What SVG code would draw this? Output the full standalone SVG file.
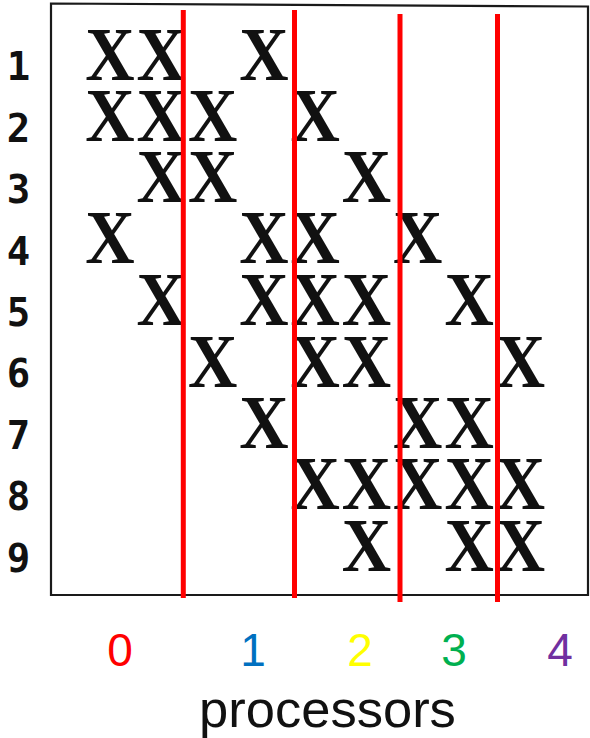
<svg xmlns="http://www.w3.org/2000/svg" width="590" height="738" viewBox="0 0 590 738">
<style>
.x{font-family:"Liberation Serif","Times New Roman",serif;font-weight:bold;font-size:76px;fill:#111}
.rl{font-family:"DejaVu Sans Mono","Liberation Mono",monospace;font-weight:bold;font-size:39px;fill:#111;text-anchor:middle}
.pl{font-family:"Liberation Sans",Arial,sans-serif;font-size:46px;text-anchor:middle}
.cap{font-family:"Liberation Sans",Arial,sans-serif;font-size:52.5px;text-anchor:middle;fill:#111}
.cut{stroke:#ff0000;stroke-width:5;fill:none}
</style>
<rect width="590" height="738" fill="#fff"/>
<g id="frame">
<path d="M51,3.5 L588,6.5 L588,595 L51,595 Z" fill="none" stroke="#1a1a1a" stroke-width="2.2"/>
</g>
<g id="rowLabels">
<text class="rl" x="18.5" y="80">1</text>
<text class="rl" x="18.5" y="141.5">2</text>
<text class="rl" x="18.5" y="203">3</text>
<text class="rl" x="18.5" y="264.5">4</text>
<text class="rl" x="18.5" y="325.5">5</text>
<text class="rl" x="18.5" y="387">6</text>
<text class="rl" x="18.5" y="448.5">7</text>
<text class="rl" x="18.5" y="510">8</text>
<text class="rl" x="18.5" y="571.5">9</text>
</g>
<g id="matrix" transform="scale(0.9,1)">
<text class="x" x="94.8 151.8 265.8" y="80">XXX</text>
<text class="x" x="94.8 151.8 208.8 322.8" y="140.8">XXXX</text>
<text class="x" x="151.8 208.8 379.8" y="202.5">XXX</text>
<text class="x" x="94.8 265.8 322.8 436.8" y="263.5">XXXX</text>
<text class="x" x="151.8 265.8 322.8 379.8 493.8" y="325">XXXXX</text>
<text class="x" x="208.8 322.8 379.8 550.8" y="386.7">XXXX</text>
<text class="x" x="265.8 436.8 493.8" y="448.3">XXX</text>
<text class="x" x="322.8 379.8 436.8 493.8 550.8" y="509.5">XXXXX</text>
<text class="x" x="379.8 493.8 550.8" y="570.8">XXX</text>
</g>
<g id="connectors">
<line class="cut" x1="183.3" y1="10" x2="183.3" y2="598"/>
<line class="cut" x1="294.5" y1="10" x2="294.5" y2="598"/>
<line class="cut" x1="400" y1="14" x2="400" y2="602"/>
<line class="cut" x1="497.5" y1="14" x2="497.5" y2="602"/>
</g>
<g id="processorLabels">
<text class="pl" x="120" y="666" fill="#ff0000">0</text>
<text class="pl" x="253" y="666" fill="#0070c0">1</text>
<text class="pl" x="360" y="666" fill="#ffff00">2</text>
<text class="pl" x="454" y="666" fill="#00b050">3</text>
<text class="pl" x="560" y="666" fill="#7030a0">4</text>
<text class="cap" x="327.5" y="727">processors</text>
</g>
</svg>
